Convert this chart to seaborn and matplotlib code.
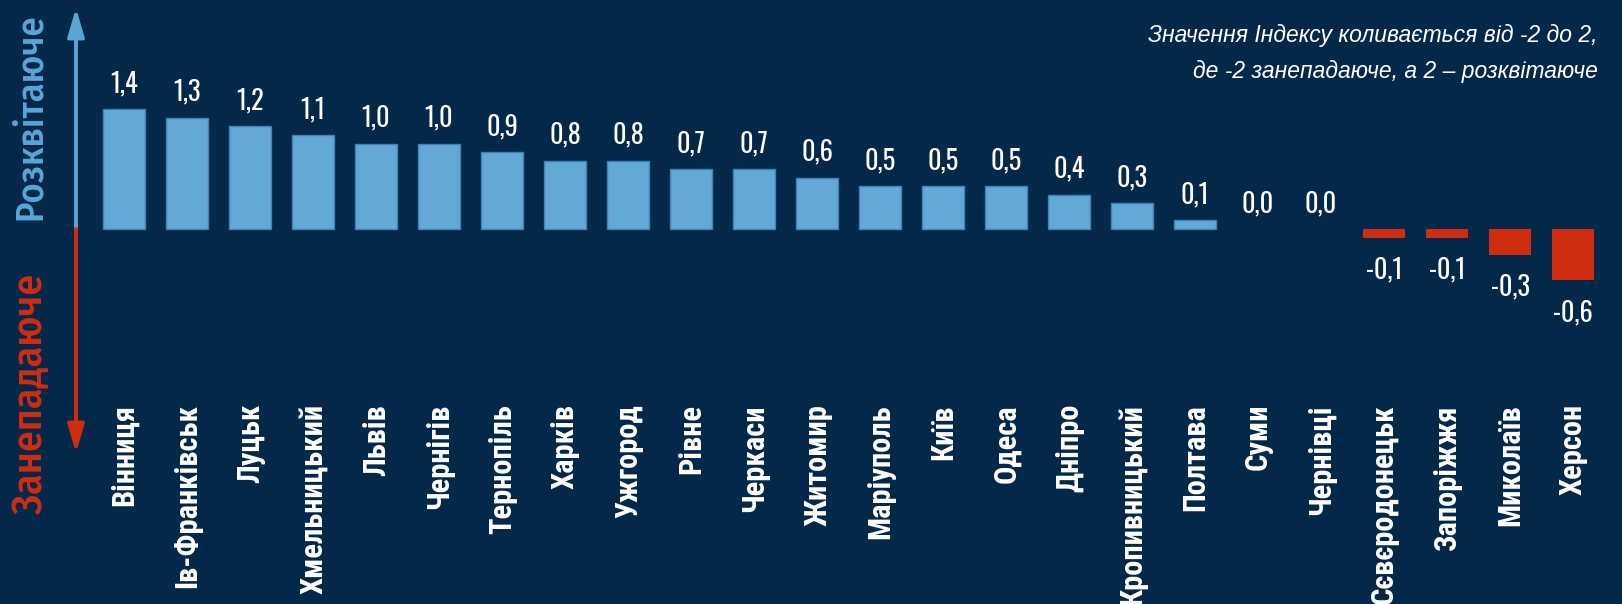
import numpy as np
import pandas as pd
import seaborn as sns
import matplotlib.pyplot as plt
from matplotlib.patches import FancyArrowPatch

# index values by city
cities = ["Вінниця", "Ів-Франківськ", "Луцьк", "Хмельницький", "Львів", "Чернігів",
          "Тернопіль", "Харків", "Ужгород", "Рівне", "Черкаси", "Житомир",
          "Маріуполь", "Київ", "Одеса", "Дніпро", "Кропивницький", "Полтава",
          "Суми", "Чернівці", "Сєвєродонецьк", "Запоріжжя", "Миколаїв", "Херсон"]
values = [1.4, 1.3, 1.2, 1.1, 1.0, 1.0, 0.9, 0.8, 0.8, 0.7, 0.7, 0.6,
          0.5, 0.5, 0.5, 0.4, 0.3, 0.1, 0.0, 0.0, -0.1, -0.1, -0.3, -0.6]
note_lines = ["Значення Індексу коливається від -2 до 2,",
              "де -2 занепадаюче, а 2 – розквітаюче"]
up_label = "Розквітаюче"
down_label = "Занепадаюче"

bg = "#042849"
blue = "#62a9d6"
red = "#cf2d10"

num_font = ["Oswald", "Fira Sans Extra Condensed", "Liberation Sans", "DejaVu Sans"]
lab_font = ["Roboto Condensed", "Fira Sans Condensed", "Liberation Sans", "DejaVu Sans"]
side_font = ["Fira Sans Condensed", "Roboto Condensed", "Liberation Sans", "DejaVu Sans"]

sns.set_theme(style="white")
plt.rcParams["font.family"] = ["Liberation Sans", "DejaVu Sans"]

W, H = 1622, 604
zero_px = 229      # baseline, px from top
scale = 85.5       # px per index unit

fig = plt.figure(figsize=(W / 100, H / 100), dpi=100, facecolor=bg)
ax = fig.add_axes([92.5 / W, 0, 1512 / W, 1])
ax.set_facecolor(bg)

df = pd.DataFrame({"city": cities, "value": values})
df["trend"] = np.where(df["value"] < 0, "down", "up")

sns.barplot(data=df, x="city", y="value", hue="trend",
            palette={"up": blue, "down": red}, dodge=False, width=0.667,
            saturation=1, legend=False, ax=ax)

for p in ax.patches:
    if p.get_height() > 0:
        p.set_edgecolor("#4282b4")
        p.set_linewidth(1)
    else:
        p.set_linewidth(0)

ax.set_xlim(-0.5, len(cities) - 0.5)
ax.set_ylim(-(H - zero_px) / scale, zero_px / scale)
ax.axis("off")

# value labels
for i, v in enumerate(values):
    lbl = f"{v:.1f}".replace(".", ",")
    y = v + 17 / scale if v >= 0 else v - 41 / scale
    ax.text(i, y, lbl, ha="center", va="baseline", color="white",
            fontsize=19, fontweight="bold", family=num_font)

# city labels
for i, c in enumerate(cities):
    ax.text(i, (zero_px - 404) / scale, c, rotation=90, ha="center", va="top",
            color="white", fontsize=22, fontweight="bold", family=lab_font)

# left arrow
ax_x = 76 / W
y0 = 1 - zero_px / H
style = "-|>,head_length=1.7,head_width=0.5"
fig.add_artist(FancyArrowPatch((ax_x, y0), (ax_x, 1 - 8 / H), transform=fig.transFigure,
                               arrowstyle=style, mutation_scale=10, color="#5aa5d6",
                               linewidth=2.8, shrinkA=0, shrinkB=0))
fig.add_artist(FancyArrowPatch((ax_x, y0), (ax_x, 1 - 453 / H), transform=fig.transFigure,
                               arrowstyle=style, mutation_scale=10, color=red,
                               linewidth=2.8, shrinkA=0, shrinkB=0))

fig.text(31 / W, 1 - 220 / H, up_label, rotation=90, ha="center", va="bottom",
         color="#5aa5d6", fontsize=27.5, family=side_font, fontweight="medium")
fig.text(31 / W, 1 - 274 / H, down_label, rotation=90, ha="center", va="top",
         color=red, fontsize=30, family=side_font, fontweight="medium")

# note in the top right
for k, line in enumerate(note_lines):
    fig.text(1598 / W, 1 - (42 + 36 * k) / H, line, ha="right", va="baseline",
             color="white", fontsize=16.5, fontstyle="italic",
             family=["Liberation Sans", "DejaVu Sans"])

fig.savefig("out.png", dpi=100, facecolor=bg)
